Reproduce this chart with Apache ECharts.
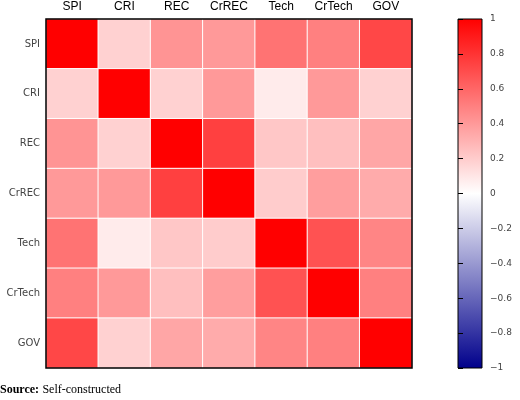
<!DOCTYPE html><html><head><meta charset="utf-8"><script src="https://cdn.jsdelivr.net/npm/echarts@6/dist/echarts.min.js"></script></head><body style="margin:0"><div id="c" style="width:520px;height:400px"></div><script>
const vars=['SPI','CRI','REC','CrREC','Tech','CrTech','GOV'];
const corr=[
[1,0.18,0.42,0.40,0.55,0.50,0.72],
[0.18,1,0.18,0.40,0.08,0.40,0.18],
[0.42,0.18,1,0.75,0.22,0.25,0.35],
[0.40,0.40,0.75,1,0.20,0.38,0.33],
[0.55,0.08,0.22,0.20,1,0.68,0.48],
[0.50,0.40,0.25,0.38,0.68,1,0.50],
[0.72,0.18,0.35,0.33,0.48,0.50,1]];
const barTicks=[-1,-0.8,-0.6,-0.4,-0.2,0,0.2,0.4,0.6,0.8,1];
const data=[];corr.forEach((r,i)=>r.forEach((v,j)=>data.push([j,i,v])));
const ch=echarts.init(document.getElementById('c'));
ch.setOption({animation:false,
grid:[{left:46,top:19,width:366,height:349,show:true,borderColor:'#000',borderWidth:1.5,backgroundColor:'transparent',z:3},
{left:458,top:19,width:24,height:349,show:true,borderColor:'#000',borderWidth:1,
backgroundColor:new echarts.graphic.LinearGradient(0,0,0,1,[{offset:0,color:'#ff0000'},{offset:0.5,color:'#ffffff'},{offset:1,color:'#00008b'}])}],
xAxis:[{type:'category',data:vars,position:'top',gridIndex:0,axisLine:{show:false},axisTick:{show:false},axisLabel:{color:'#000',fontFamily:'Liberation Sans',fontSize:12,margin:6}},
{type:'value',gridIndex:1,show:false}],
yAxis:[{type:'category',data:vars,inverse:true,gridIndex:0,axisLine:{show:false},axisTick:{show:false},axisLabel:{color:'#444',fontFamily:'DejaVu Sans',fontSize:10,margin:6}},
{type:'value',gridIndex:1,min:-1,max:1,interval:0.2,position:'right',axisLine:{show:false},splitLine:{show:false},
axisTick:{show:true,length:5,lineStyle:{color:'#000'}},
axisLabel:{color:'#444',fontFamily:'DejaVu Sans',fontSize:9,margin:8,formatter:v=>{v=Math.round(v*10)/10;return barTicks.includes(v)?(v<0?'\u2212'+(-v):String(v)):''}}}],
visualMap:{show:false,min:-1,max:1,seriesIndex:0,inRange:{color:['#00008b','#ffffff','#ff0000']}},
series:[{type:'heatmap',data:data,xAxisIndex:0,yAxisIndex:0,itemStyle:{borderColor:'#fff',borderWidth:1}}],
graphic:[{type:'text',left:0,top:384,style:{rich:{b:{font:'bold 12px "Liberation Serif"',fill:'#000'},n:{font:'12px "Liberation Serif"',fill:'#000'}},text:'{b|Source:} {n|Self-constructed}'}}]
});
</script></body></html>
